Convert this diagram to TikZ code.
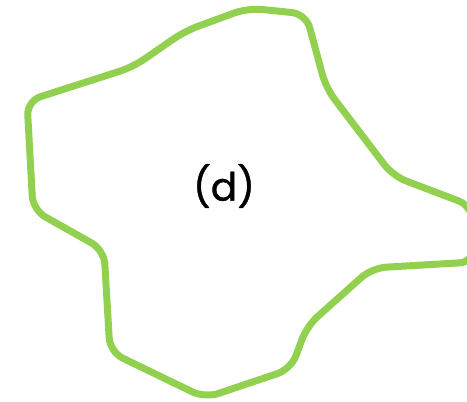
\documentclass[tikz,border=0pt]{standalone}
\usepackage{fontspec}
\setmainfont{Poppins}
\newfontfamily\labelfont[FakeBold=1]{Poppins}
\definecolor{leafgreen}{HTML}{92D050}

\begin{document}
\begin{tikzpicture}[x=1pt, y=-1pt, line cap=round, line join=round]
    \tikzset{blob/.style={draw=leafgreen, line width=7pt, rounded corners=14pt}}
    \useasboundingbox (0,0) rectangle (467,402);

    % 外形
    \draw[blob] (133,67) -- (185,31) -- (248,8) -- (306,14) -- (326,88)
        -- (393,176) -- (472,206) -- (474,262) -- (372,268)
        -- (307,326) -- (291,369) -- (205,398) -- (110,352) -- (104,250)
        -- (33,210) -- (27,101) -- cycle;

    % ラベル
    \node[font=\labelfont\fontsize{39}{46}\selectfont] (lbl) at (224,186) {(d)};
\end{tikzpicture}
\end{document}
